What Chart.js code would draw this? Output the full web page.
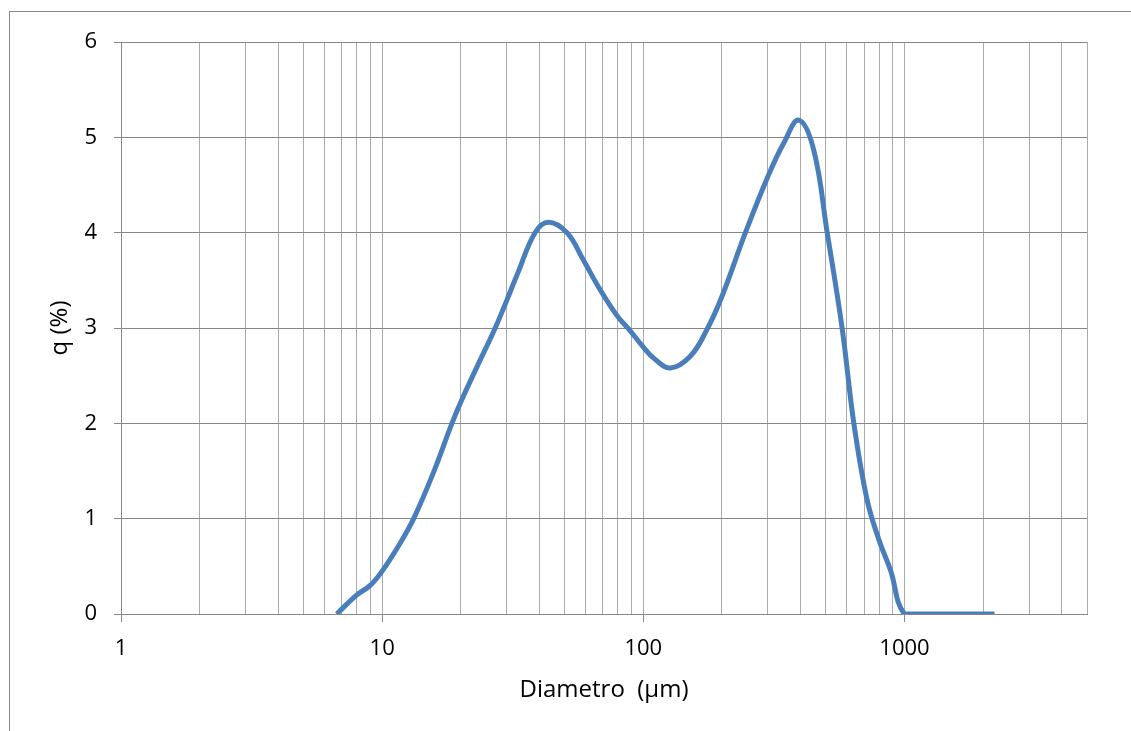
<!DOCTYPE html>
<html><head><meta charset="utf-8">
<script src="https://cdn.jsdelivr.net/npm/chart.js@4.4.1/dist/chart.umd.min.js"></script>
<style>html,body{margin:0;padding:0;background:#fff;}#wrap{width:1131px;height:731px;}</style>
</head><body><div id="wrap"><canvas id="c" width="1131" height="731"></canvas></div>
<script>
const diameters = [6.7, 8.0, 9.0, 10.0, 11.7, 13.2, 15.7, 18.5, 20.2, 23.7, 27.1, 30.0, 33.0, 38.5, 43.3, 51.0, 59.0, 68.4, 79.3, 87.8, 100, 110, 127, 151, 175, 200, 246, 300, 345, 394, 449, 506, 577, 640, 719, 798, 884, 1000, 1200, 1500, 2000, 2213];
const qValues = [0, 0.20, 0.30, 0.45, 0.74, 1.00, 1.48, 2.00, 2.25, 2.66, 3.00, 3.29, 3.57, 4.00, 4.11, 4.00, 3.71, 3.40, 3.13, 2.99, 2.80, 2.68, 2.58, 2.70, 2.98, 3.33, 4.00, 4.59, 4.94, 5.18, 4.87, 4.00, 3.00, 2.00, 1.20, 0.78, 0.46, 0, 0, 0, 0, 0];
const xGridValues = [1,2,3,4,5,6,7,8,9,10,20,30,40,50,60,70,80,90,100,200,300,400,500,600,700,800,900,1000,2000,3000,4000,5000];
const xTickLabels = ['1','10','100','1000'];
const yTickValues = [0,1,2,3,4,5,6];
const xTitle = 'Diametro  (µm)';
const yTitle = 'q (%)';

const FONT = "'Open Sans', 'Liberation Sans', sans-serif";
const H_GRID = '#878787';
const V_GRID = '#ababab';

const frame = {
  id: 'frame',
  beforeDraw(chart) {
    const ctx = chart.ctx;
    ctx.save();
    ctx.fillStyle = '#ffffff';
    ctx.fillRect(0, 0, chart.width, chart.height);
    ctx.strokeStyle = '#888888';
    ctx.lineWidth = 1;
    ctx.strokeRect(9.5, 11.5, 1300, 900);
    ctx.restore();
  }
};

new Chart(document.getElementById('c'), {
  type: 'line',
  data: {
    datasets: [{
      data: diameters.map((d, i) => ({x: d, y: qValues[i]})),
      borderColor: '#4a7ebb',
      borderWidth: 5,
      pointRadius: 0,
      tension: 0.4,
      fill: false
    }]
  },
  options: {
    responsive: false,
    animation: false,
    devicePixelRatio: 1,
    layout: {padding: {top: 42, right: 44, left: 0, bottom: 0}},
    plugins: {legend: {display: false}, tooltip: {enabled: false}},
    scales: {
      x: {
        type: 'logarithmic',
        min: 1, max: 5000,
        afterBuildTicks(s) { s.ticks = xGridValues.map(v => ({value: v})); },
        afterFit(s) { s.height = 117; },
        ticks: {
          autoSkip: false, maxRotation: 0, minRotation: 0,
          padding: 14,
          color: '#000',
          font: {family: FONT, size: 22},
          callback: (v) => xTickLabels.includes(String(v)) ? String(v) : ''
        },
        grid: {
          color: V_GRID,
          lineWidth: 1,
          tickLength: 8,
          tickColor: (c) => (c.tick && xTickLabels.includes(String(c.tick.value))) ? H_GRID : 'rgba(0,0,0,0)'
        },
        border: {color: H_GRID, width: 1},
        title: {display: true, text: xTitle, color: '#000', font: {family: FONT, size: 24}, padding: {top: 0, bottom: 26}}
      },
      y: {
        min: 0, max: 6,
        afterBuildTicks(s) { s.ticks = yTickValues.map(v => ({value: v})); },
        afterFit(s) { s.width = 121; },
        ticks: {
          padding: 17,
          color: '#000',
          font: {family: FONT, size: 22}
        },
        grid: {color: H_GRID, lineWidth: 1, tickLength: 7, tickColor: H_GRID},
        border: {color: H_GRID, width: 1},
        title: {display: true, text: yTitle, color: '#000', font: {family: FONT, size: 24}, padding: {top: 46, bottom: 0}}
      }
    }
  },
  plugins: [frame]
});
</script>
</body></html>
